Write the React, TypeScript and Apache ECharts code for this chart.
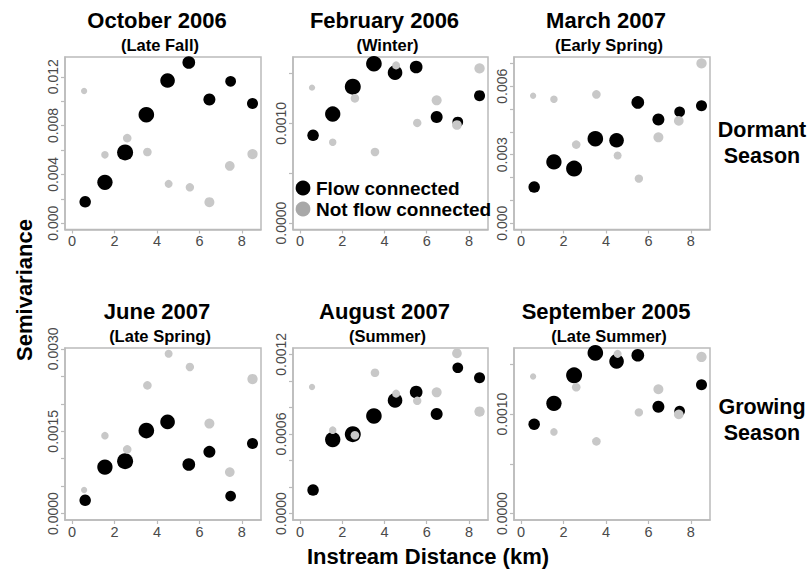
import React, { useEffect, useRef } from "react";
import * as echarts from "echarts";

// ---- data -------------------------------------------------------------
const flowX = [0.62, 1.55, 2.5, 3.5, 4.5, 5.5, 6.47, 7.47, 8.5];
const notFlowX = [0.57, 1.55, 2.6, 3.55, 4.55, 5.55, 6.47, 7.43, 8.5];
// symbol diameters (number of pairs)
const flowSize = [11.5, 15.3, 16, 15.6, 14.6, 12.7, 12, 10.7, 11];
const notFlowSize = [6.3, 7.5, 8.6, 8.6, 8, 8.4, 10, 9.7, 10.3];

const oct2006Flow = [0.00175, 0.00335, 0.0058, 0.00889, 0.01169, 0.01317, 0.01014, 0.01163, 0.0098];
const oct2006NotFlow = [0.01083, 0.0056, 0.00697, 0.00583, 0.00322, 0.00294, 0.00172, 0.00469, 0.00566];

const feb2006Flow = [0.00088, 0.001093, 0.001367, 0.001597, 0.001507, 0.001564, 0.001063, 0.001013, 0.001277];
const feb2006NotFlow = [0.001357, 0.00081, 0.00125, 0.000713, 0.00158, 0.001003, 0.00123, 0.000983, 0.00155];

const mar2007Flow = [0.00158, 0.00268, 0.00239, 0.0037, 0.00363, 0.00529, 0.00454, 0.00488, 0.00514];
const mar2007NotFlow = [0.00558, 0.00543, 0.00344, 0.00564, 0.00296, 0.00195, 0.00376, 0.00448, 0.007];

const jun2007Flow = [0.000242, 0.000847, 0.000956, 0.001512, 0.00167, 0.000895, 0.001125, 0.00032, 0.001276];
const jun2007NotFlow = [0.00043, 0.00142, 0.00117, 0.002335, 0.00291, 0.00267, 0.00164, 0.000756, 0.00245];

const aug2007Flow = [0.000178, 0.000558, 0.000599, 0.000736, 0.000853, 0.000916, 0.000751, 0.001099, 0.001023];
const aug2007NotFlow = [0.000954, 0.000629, 0.000591, 0.001061, 0.000904, 0.00085, 0.000914, 0.001208, 0.000769];

const sep2005Flow = [0.000899, 0.001108, 0.001389, 0.001615, 0.00153, 0.001591, 0.001074, 0.00103, 0.001294];
const sep2005NotFlow = [0.001378, 0.000821, 0.00127, 0.000726, 0.001605, 0.001017, 0.00125, 0.000997, 0.001574];

const xTicks = [0, 2, 4, 6, 8];

const oct2006Ticks = [0, 0.002, 0.004, 0.006, 0.008, 0.01, 0.012];
const oct2006Labels = [0, 0.004, 0.008, 0.012];
const feb2006Ticks = [0, 0.0005, 0.001, 0.0015];
const feb2006Labels = [0, 0.001];
const mar2007Ticks = [0, 0.001, 0.002, 0.003, 0.004, 0.005, 0.006, 0.007];
const mar2007Labels = [0, 0.003, 0.006];
const jun2007Ticks = [0, 0.0005, 0.001, 0.0015, 0.002, 0.0025, 0.003];
const jun2007Labels = [0, 0.0015, 0.003];
const aug2007Ticks = [0, 0.0002, 0.0004, 0.0006, 0.0008, 0.001, 0.0012];
const aug2007Labels = [0, 0.0006, 0.0012];
const sep2005Ticks = [0, 0.0005, 0.001, 0.0015];
const sep2005Labels = [0, 0.001];

const panelTitles = ["October 2006", "February 2006", "March 2007", "June 2007", "August 2007", "September 2005"];
const panelSubtitles = ["(Late Fall)", "(Winter)", "(Early Spring)", "(Late Spring)", "(Summer)", "(Late Summer)"];

// ---- layout -----------------------------------------------------------
const FONT = '"Liberation Sans", Arial, Helvetica, sans-serif';
const cols = [
  { left: 65, width: 196 },
  { left: 293, width: 195 },
  { left: 514, width: 196 },
];
const rows = [
  { top: 57, height: 172.5 },
  { top: 348, height: 172 },
];
const BOX = "#bbbbbb";
const GRAY = "#c8c8c8";
const TICKTEXT = "#4a4a4a";

export default function App() {
  const ref = useRef<HTMLDivElement>(null);

  useEffect(() => {
    if (!ref.current) return;
    const chart = echarts.init(ref.current, null, { renderer: "svg" });

    const panels = [
      { flow: oct2006Flow, notFlow: oct2006NotFlow, yMin: -0.00052, yMax: 0.01362, ticks: oct2006Ticks, labels: oct2006Labels, digits: 3 },
      { flow: feb2006Flow, notFlow: feb2006NotFlow, yMin: -0.000064, yMax: 0.001664, ticks: feb2006Ticks, labels: feb2006Labels, digits: 4 },
      { flow: mar2007Flow, notFlow: mar2007NotFlow, yMin: -0.00028, yMax: 0.00728, ticks: mar2007Ticks, labels: mar2007Labels, digits: 3 },
      { flow: jun2007Flow, notFlow: jun2007NotFlow, yMin: -0.000116, yMax: 0.003016, ticks: jun2007Ticks, labels: jun2007Labels, digits: 4 },
      { flow: aug2007Flow, notFlow: aug2007NotFlow, yMin: -0.000048, yMax: 0.001248, ticks: aug2007Ticks, labels: aug2007Labels, digits: 4 },
      { flow: sep2005Flow, notFlow: sep2005NotFlow, yMin: -0.000064, yMax: 0.001664, ticks: sep2005Ticks, labels: sep2005Labels, digits: 4 },
    ];

    const grid: any[] = [];
    const xAxis: any[] = [];
    const yAxis: any[] = [];
    const series: any[] = [];
    const graphic: any[] = [];

    panels.forEach((p, i) => {
      const c = cols[i % 3];
      const r = rows[Math.floor(i / 3)];
      grid.push({
        left: c.left,
        top: r.top,
        width: c.width,
        height: r.height,
        show: true,
        borderColor: BOX,
        borderWidth: 1.5,
        backgroundColor: "transparent",
        containLabel: false,
      });
      xAxis.push({
        type: "value",
        gridIndex: i,
        min: -0.33,
        max: 8.9,
        splitLine: { show: false },
        axisLine: { show: true, onZero: false, lineStyle: { color: BOX, width: 1.5 } },
        axisTick: { show: true, length: 4, customValues: xTicks, lineStyle: { color: BOX, width: 1.2 } },
        axisLabel: {
          show: true,
          customValues: xTicks,
          margin: 4,
          color: TICKTEXT,
          fontSize: 14.5,
          fontFamily: FONT,
        },
      });
      yAxis.push({
        type: "value",
        gridIndex: i,
        min: p.yMin,
        max: p.yMax,
        splitLine: { show: false },
        axisLine: { show: true, onZero: false, lineStyle: { color: BOX, width: 1.5 } },
        axisTick: { show: true, length: 4, customValues: p.ticks, lineStyle: { color: BOX, width: 1.2 } },
        axisLabel: {
          show: true,
          customValues: p.labels,
          rotate: 90,
          margin: 5,
          color: TICKTEXT,
          fontSize: 14,
          fontFamily: FONT,
          formatter: (v: number) => Number(v).toFixed(p.digits),
        },
      });
      series.push({
        type: "scatter",
        xAxisIndex: i,
        yAxisIndex: i,
        symbol: "circle",
        symbolSize: (_v: any, params: any) => flowSize[params.dataIndex],
        itemStyle: { color: "#000000", opacity: 1 },
        data: p.flow.map((y, k) => [flowX[k], y]),
        z: 2,
      });
      series.push({
        type: "scatter",
        xAxisIndex: i,
        yAxisIndex: i,
        symbol: "circle",
        symbolSize: (_v: any, params: any) => notFlowSize[params.dataIndex],
        itemStyle: { color: GRAY, opacity: 1 },
        data: p.notFlow.map((y, k) => [notFlowX[k], y]),
        z: 3,
      });

      const cx = c.left + c.width / 2;
      graphic.push({
        type: "text",
        x: cx - 6,
        y: r.top - 37,
        style: {
          text: panelTitles[i],
          font: `bold 22px ${FONT}`,
          fill: "#000",
          align: "center",
          verticalAlign: "middle",
        },
      });
      graphic.push({
        type: "text",
        x: cx - 3,
        y: r.top - 12,
        style: {
          text: panelSubtitles[i],
          font: `bold 16.5px ${FONT}`,
          fill: "#000",
          align: "center",
          verticalAlign: "middle",
        },
      });
    });

    // legend inside February 2006 panel
    graphic.push({ type: "circle", shape: { cx: 303, cy: 188, r: 7.4 }, style: { fill: "#000" }, z: 10 });
    graphic.push({ type: "circle", shape: { cx: 303, cy: 209, r: 7.4 }, style: { fill: "#a8a8a8" }, z: 10 });
    graphic.push({
      type: "text", x: 316, y: 188, z: 10,
      style: { text: "Flow connected", font: `bold 19px ${FONT}`, fill: "#000", align: "left", verticalAlign: "middle" },
    });
    graphic.push({
      type: "text", x: 316, y: 209, z: 10,
      style: { text: "Not flow connected", font: `bold 19px ${FONT}`, fill: "#000", align: "left", verticalAlign: "middle" },
    });

    // season labels
    const seasonText = (text: string, x: number, y: number) => ({
      type: "text", x, y,
      style: { text, font: `bold 21.5px ${FONT}`, fill: "#000", align: "center", verticalAlign: "middle" },
    });
    graphic.push(seasonText("Dormant", 762, 130));
    graphic.push(seasonText("Season", 762, 156));
    graphic.push(seasonText("Growing", 762, 407));
    graphic.push(seasonText("Season", 762, 433));

    // axis titles
    graphic.push({
      type: "text", x: 24, y: 290, rotation: Math.PI / 2,
      style: { text: "Semivariance", font: `bold 22px ${FONT}`, fill: "#000", align: "center", verticalAlign: "middle" },
    });
    graphic.push({
      type: "text", x: 428, y: 556,
      style: { text: "Instream Distance (km)", font: `bold 22px ${FONT}`, fill: "#000", align: "center", verticalAlign: "middle" },
    });

    chart.setOption({
      animation: false,
      backgroundColor: "#ffffff",
      grid,
      xAxis,
      yAxis,
      series,
      graphic,
    });

    return () => chart.dispose();
  }, []);

  return (
    <div
      ref={ref}
      style={{ position: "absolute", left: 0, top: 0, width: 811, height: 573, background: "#fff" }}
    />
  );
}
